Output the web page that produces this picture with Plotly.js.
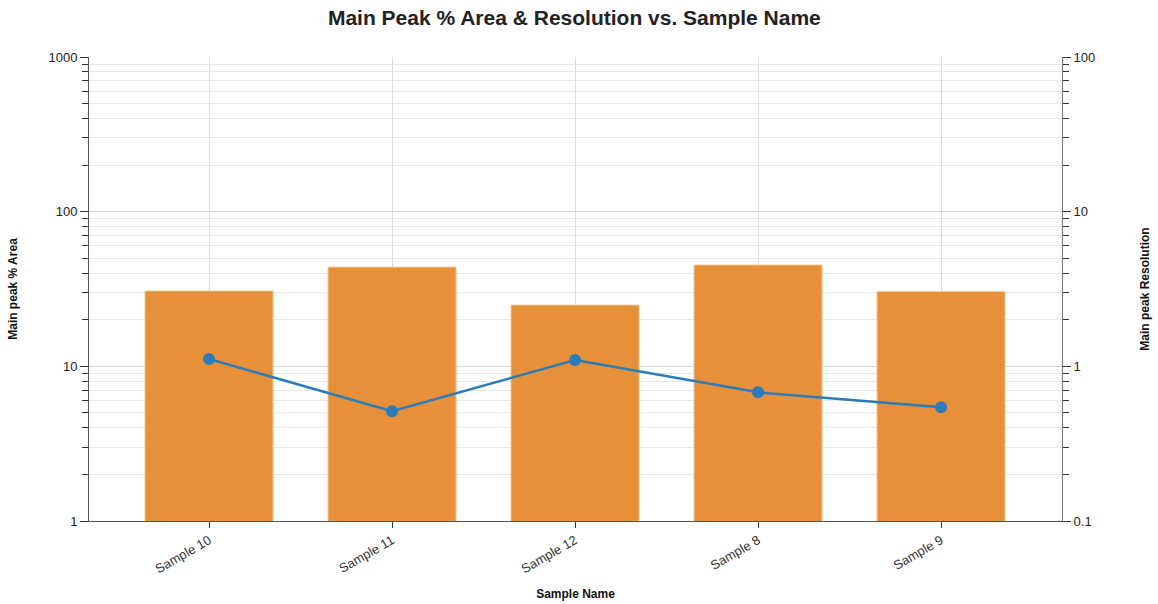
<!DOCTYPE html>
<html><head><meta charset="utf-8">
<script src="https://cdn.plot.ly/plotly-3.0.1.min.js"></script>
<style>body{margin:0;}#chart{width:1158px;height:604px;}</style>
</head><body><div id="chart"></div>
<script>
const samples = ["Sample 10", "Sample 11", "Sample 12", "Sample 8", "Sample 9"];
const areaPct = [30.7, 43.8, 24.9, 45.2, 30.5];
const resolution = [1.115, 0.512, 1.10, 0.679, 0.543];

const data = [
  {type:'bar', x:samples, y:areaPct, name:'Main peak % Area', yaxis:'y',
   marker:{color:'#e6913a', line:{color:'#f3c99a', width:1}}},
  {type:'scatter', mode:'lines+markers', x:samples, y:resolution, name:'Main peak Resolution', yaxis:'y2',
   line:{color:'#2b7bb9', width:2.5}, marker:{color:'#2b7bb9', size:12}}
];
const font = {family:'"Liberation Sans", Arial, sans-serif', size:13, color:'#333'};
const layout = {
  width:1158, height:604, showlegend:false, font:font,
  paper_bgcolor:'#fff', plot_bgcolor:'#fff',
  margin:{l:89, r:96, t:57, b:83},
  bargap:0.3,
  title:{text:'<b>Main Peak % Area & Resolution vs. Sample Name</b>', x:0.496, xanchor:'center', y:0.983, yanchor:'top',
         font:{family:font.family, size:21, color:'#222'}},
  xaxis:{range:[-0.656, 4.661], title:{text:'<b>Sample Name</b>', font:{size:12, color:'#111'}, standoff:14},
         tickangle:-30, ticks:'outside', ticklen:6, tickcolor:'#333',
         showgrid:true, gridcolor:'#dcdcdc', showline:true, linecolor:'#555', linewidth:1,
         tickfont:{size:13, color:'#333'}},
  yaxis:{type:'log', range:[0,3], dtick:1, title:{text:'<b>Main peak % Area</b>', font:{size:12, color:'#111'}, standoff:28},
         ticks:'outside', ticklen:8, tickcolor:'#333', showline:true, linecolor:'#555', linewidth:1,
         gridcolor:'#d6d6d6', zeroline:false, tickfont:{size:13, color:'#222'},
         minor:{dtick:'D1', ticks:'outside', ticklen:6, tickcolor:'#333', showgrid:true, gridcolor:'#e6e6e6'}},
  yaxis2:{type:'log', range:[-1,2], dtick:1, overlaying:'y', side:'right',
         title:{text:'<b>Main peak Resolution</b>', font:{size:12, color:'#111'}, standoff:46},
         ticks:'outside', ticklen:8, tickcolor:'#333', showline:true, linecolor:'#777', linewidth:1,
         showgrid:false, zeroline:false, tickfont:{size:13, color:'#222'},
         minor:{dtick:'D1', ticks:'outside', ticklen:6, tickcolor:'#333', showgrid:false}}
};
Plotly.newPlot('chart', data, layout, {displayModeBar:false, staticPlot:true});
</script></body></html>
